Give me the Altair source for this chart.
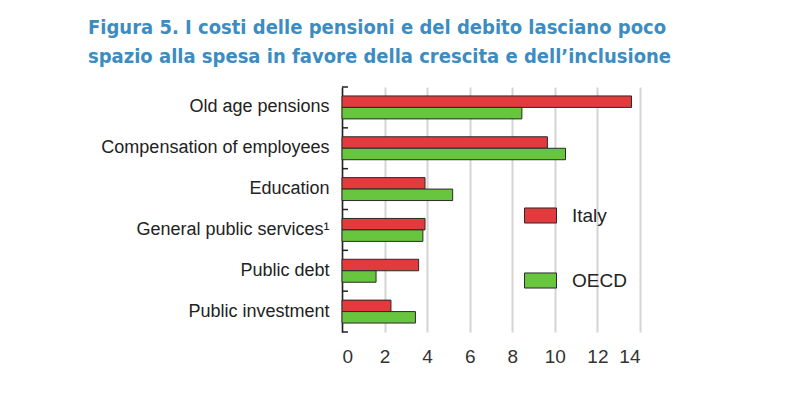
import altair as alt
import pandas as pd

categories = ["Old age pensions", "Compensation of employees", "Education",
              "General public services\u00b9", "Public debt", "Public investment"]
italy = [13.6, 9.65, 3.9, 3.9, 3.6, 2.3]
oecd = [8.45, 10.5, 5.2, 3.8, 1.6, 3.45]
series = ["Italy", "OECD"]
colors = ["#e33a3e", "#68c63e"]
x_ticks = [0, 2, 4, 6, 8, 10, 12, 14]

rows = []
for c, a, b in zip(categories, italy, oecd):
    rows.append({"cat": c, "series": "Italy", "value": a})
    rows.append({"cat": c, "series": "OECD", "value": b})
df = pd.DataFrame(rows)
cat_df = pd.DataFrame({"cat": categories})

FONT = "Liberation Sans"

y_scale = alt.Scale(domain=categories, paddingInner=0, paddingOuter=0)

bars = alt.Chart(df).mark_bar(stroke="#2a2a2a", strokeWidth=1).encode(
    x=alt.X("value:Q", scale=alt.Scale(domain=[0, 14], nice=False),
            axis=alt.Axis(values=x_ticks, title=None, domain=False, ticks=False,
                          grid=True, gridColor="#d4d4d4", gridWidth=2,
                          labelFontSize=19, labelColor="#333333", labelFont=FONT,
                          labelPadding=15)),
    y=alt.Y("cat:N", sort=categories, scale=y_scale,
            axis=alt.Axis(title=None, domainColor="#222222",
                          domainWidth=1.5, ticks=False,
                          labelFontSize=18, labelColor="#222222",
                          labelFont=FONT, labelPadding=13, labelLimit=320,
                          grid=False)),
    yOffset=alt.YOffset("series:N", sort=series,
                        scale=alt.Scale(paddingInner=0, paddingOuter=0.78)),
    color=alt.Color("series:N", sort=series,
                    scale=alt.Scale(domain=series, range=colors),
                    legend=alt.Legend(title=None, orient="none", legendX=182,
                                      legendY=112, padding=0,
                                      symbolType="M-1,-0.47H1V0.47H-1Z",
                                      symbolSize=1024, symbolStrokeColor="#2a2a2a",
                                      symbolStrokeWidth=1, rowPadding=38,
                                      labelOffset=15, labelFontSize=19,
                                      labelColor="#222222", labelFont=FONT)),
)

ticks_top = alt.Chart(cat_df).mark_rule(color="#222222", strokeWidth=1.5).encode(
    y=alt.Y("cat:N", sort=categories, scale=y_scale, bandPosition=0),
    x=alt.value(0), x2=alt.value(6),
)
ticks_bottom = alt.Chart(cat_df.tail(1)).mark_rule(color="#222222", strokeWidth=1.5).encode(
    y=alt.Y("cat:N", sort=categories, scale=y_scale, bandPosition=1),
    x=alt.value(0), x2=alt.value(6),
)

chart = alt.layer(bars, ticks_top, ticks_bottom).properties(
    width=298, height=245,
    autosize=alt.AutoSizeParams(type="none"),
    padding={"left": 334, "top": 79, "right": 152, "bottom": 53},
    title=alt.TitleParams(
        text=["Figura 5. I costi delle pensioni e del debito lasciano poco",
              "spazio alla spesa in favore della crescita e dell\u2019inclusione"],
        anchor="start", frame="group", dx=-254, fontSize=20,
        font="'DejaVu Sans Condensed', 'Liberation Sans Narrow', sans-serif",
        fontWeight="bold", color="#3d8cc1",
        lineHeight=29, offset=19),
).configure_view(stroke=None)

chart.save("out.html", embed_options={"renderer": "svg", "actions": False})
